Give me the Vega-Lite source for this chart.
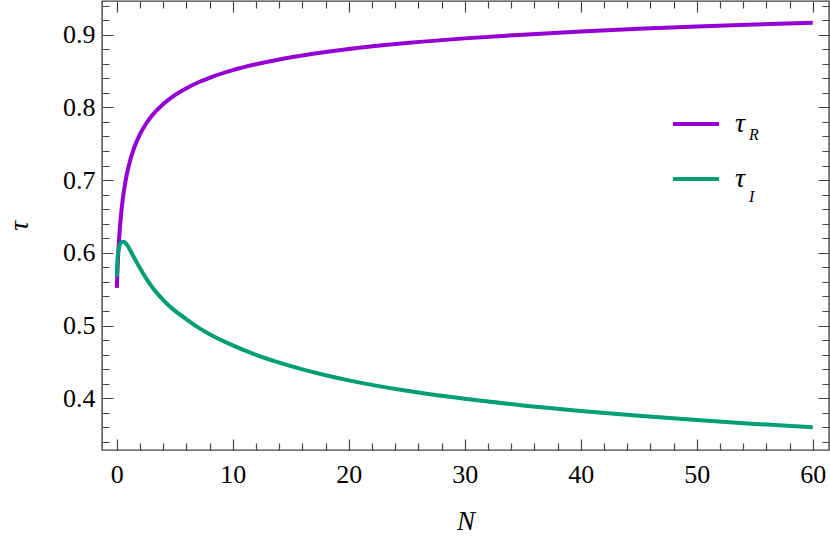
{
  "$schema": "https://vega.github.io/schema/vega-lite/v6.json",
  "width": 727,
  "height": 449,
  "autosize": {"type": "none"},
  "padding": {"left": 102, "top": 1, "right": 1, "bottom": 104},
  "background": "white",
  "datasets": {
    "curves": [
      {"s": "R", "N": 0, "tau": 0.5518},
      {"s": "R", "N": 0.05, "tau": 0.5742},
      {"s": "R", "N": 0.1, "tau": 0.5923},
      {"s": "R", "N": 0.2, "tau": 0.6205},
      {"s": "R", "N": 0.3, "tau": 0.6417},
      {"s": "R", "N": 0.5, "tau": 0.6725},
      {"s": "R", "N": 0.75, "tau": 0.6989},
      {"s": "R", "N": 1, "tau": 0.718},
      {"s": "R", "N": 1.5, "tau": 0.7448},
      {"s": "R", "N": 2, "tau": 0.7632},
      {"s": "R", "N": 2.5, "tau": 0.7771},
      {"s": "R", "N": 3, "tau": 0.788},
      {"s": "R", "N": 4, "tau": 0.8046},
      {"s": "R", "N": 5, "tau": 0.8169},
      {"s": "R", "N": 6, "tau": 0.8264},
      {"s": "R", "N": 7, "tau": 0.8342},
      {"s": "R", "N": 8, "tau": 0.8407},
      {"s": "R", "N": 10, "tau": 0.8512},
      {"s": "R", "N": 12, "tau": 0.8593},
      {"s": "R", "N": 14, "tau": 0.8659},
      {"s": "R", "N": 16, "tau": 0.8714},
      {"s": "R", "N": 18, "tau": 0.8761},
      {"s": "R", "N": 20, "tau": 0.8802},
      {"s": "R", "N": 25, "tau": 0.8885},
      {"s": "R", "N": 30, "tau": 0.8949},
      {"s": "R", "N": 35, "tau": 0.9},
      {"s": "R", "N": 40, "tau": 0.9043},
      {"s": "R", "N": 45, "tau": 0.908},
      {"s": "R", "N": 50, "tau": 0.9112},
      {"s": "R", "N": 55, "tau": 0.914},
      {"s": "R", "N": 60, "tau": 0.9165},
      {"s": "I", "N": 0, "tau": 0.567},
      {"s": "I", "N": 0.02, "tau": 0.58},
      {"s": "I", "N": 0.05, "tau": 0.59},
      {"s": "I", "N": 0.1, "tau": 0.599},
      {"s": "I", "N": 0.2, "tau": 0.608},
      {"s": "I", "N": 0.3, "tau": 0.6125},
      {"s": "I", "N": 0.4, "tau": 0.6145},
      {"s": "I", "N": 0.5, "tau": 0.615},
      {"s": "I", "N": 0.6, "tau": 0.6148},
      {"s": "I", "N": 0.7, "tau": 0.614},
      {"s": "I", "N": 0.85, "tau": 0.6115},
      {"s": "I", "N": 1, "tau": 0.608},
      {"s": "I", "N": 1.25, "tau": 0.6005},
      {"s": "I", "N": 1.5, "tau": 0.593},
      {"s": "I", "N": 1.75, "tau": 0.5858},
      {"s": "I", "N": 2, "tau": 0.5787},
      {"s": "I", "N": 2.5, "tau": 0.5655},
      {"s": "I", "N": 3, "tau": 0.5538},
      {"s": "I", "N": 3.5, "tau": 0.5438},
      {"s": "I", "N": 4, "tau": 0.535},
      {"s": "I", "N": 4.5, "tau": 0.5273},
      {"s": "I", "N": 5, "tau": 0.5205},
      {"s": "I", "N": 6, "tau": 0.5085},
      {"s": "I", "N": 7, "tau": 0.4975},
      {"s": "I", "N": 8, "tau": 0.4881},
      {"s": "I", "N": 10, "tau": 0.4727},
      {"s": "I", "N": 12, "tau": 0.4596},
      {"s": "I", "N": 14, "tau": 0.4489},
      {"s": "I", "N": 16, "tau": 0.4397},
      {"s": "I", "N": 18, "tau": 0.4317},
      {"s": "I", "N": 20, "tau": 0.4246},
      {"s": "I", "N": 25, "tau": 0.4102},
      {"s": "I", "N": 30, "tau": 0.3992},
      {"s": "I", "N": 35, "tau": 0.3901},
      {"s": "I", "N": 40, "tau": 0.3824},
      {"s": "I", "N": 45, "tau": 0.3758},
      {"s": "I", "N": 50, "tau": 0.3699},
      {"s": "I", "N": 55, "tau": 0.3647},
      {"s": "I", "N": 60, "tau": 0.36}
    ]
  },
  "data": {"name": "curves"},
  "encoding": {
    "color": {
      "field": "s",
      "type": "nominal",
      "scale": {"domain": ["R", "I"], "range": ["#9400D3", "#009E73"]},
      "legend": {
        "orient": "none",
        "legendX": 569,
        "legendY": 98,
        "padding": 0,
        "title": null,
        "symbolType": "stroke",
        "symbolSize": 2116,
        "symbolStrokeWidth": 4,
        "labelExpr": "'τ'",
        "labelFont": "Liberation Serif",
        "labelFontStyle": "italic",
        "labelFontSize": 28,
        "labelColor": "black",
        "labelOffset": 14,
        "labelBaseline": "middle",
        "rowPadding": 16
      }
    }
  },
  "layer": [
    {
      "transform": [{"filter": "datum.s === 'R'"}],
      "mark": {"type": "line", "strokeWidth": 4, "interpolate": "monotone"},
      "encoding": {
        "x": {
          "field": "N",
          "type": "quantitative",
          "scale": {"domain": [-1.28, 61.4], "nice": false, "zero": false},
          "axis": {
            "orient": "bottom",
            "values": [0, 10, 20, 30, 40, 50, 60],
            "domain": false,
            "ticks": false,
            "grid": true,
            "gridDash": [11, 427, 11, 1000],
            "gridColor": "#444444",
            "gridWidth": 1.2,
            "gridOpacity": 1,
            "labelFont": "Liberation Serif",
            "labelFontSize": 26,
            "labelColor": "black",
            "labelPadding": 11,
            "labelFlush": false,
            "title": "N",
            "titleFont": "Liberation Serif",
            "titleFontStyle": "italic",
            "titleFontWeight": "normal",
            "titleFontSize": 27,
            "titleColor": "black",
            "titlePadding": 21
          }
        },
        "y": {
          "field": "tau",
          "type": "quantitative",
          "scale": {"domain": [0.3288, 0.9463], "nice": false, "zero": false},
          "axis": {
            "orient": "left",
            "values": [0.4, 0.5, 0.6, 0.7, 0.8, 0.9],
            "format": ".1f",
            "domain": false,
            "ticks": false,
            "grid": true,
            "gridDash": [11, 705, 11, 1000],
            "gridColor": "#444444",
            "gridWidth": 1.2,
            "gridOpacity": 1,
            "labelFont": "Liberation Serif",
            "labelFontSize": 26,
            "labelColor": "black",
            "labelPadding": 7,
            "labelFlush": false,
            "title": "τ",
            "titleFont": "Liberation Serif",
            "titleFontStyle": "italic",
            "titleFontWeight": "normal",
            "titleFontSize": 27,
            "titleColor": "black",
            "titleBaseline": "alphabetic",
            "titlePadding": 35
          }
        },
        "opacity": {
          "field": "s",
          "type": "nominal",
          "scale": {"domain": ["I", "R"], "range": [1, 1]},
          "legend": {
            "orient": "none",
            "legendX": 631,
            "legendY": 126,
            "padding": 0,
            "title": null,
            "values": ["R", "I"],
            "symbolSize": 0,
            "symbolOpacity": 0,
            "symbolStrokeWidth": 0,
            "labelFont": "Liberation Serif",
            "labelFontStyle": "italic",
            "labelFontSize": 16,
            "labelColor": "black",
            "labelOffset": 0,
            "labelBaseline": "middle",
            "rowPadding": 46
          }
        }
      }
    },
    {
      "transform": [{"filter": "datum.s === 'I'"}],
      "mark": {"type": "line", "strokeWidth": 4, "interpolate": "monotone"},
      "encoding": {
        "x": {
          "field": "N",
          "type": "quantitative",
          "axis": {
            "orient": "top",
            "values": [2, 4, 6, 8, 12, 14, 16, 18, 22, 24, 26, 28, 32, 34, 36, 38, 42, 44, 46, 48, 52, 54, 56, 58],
            "domain": false,
            "ticks": false,
            "labels": false,
            "title": null,
            "grid": true,
            "gridDash": [7, 435, 7, 1000],
            "gridColor": "#444444",
            "gridWidth": 1.2,
            "gridOpacity": 1
          }
        },
        "y": {
          "field": "tau",
          "type": "quantitative",
          "axis": {
            "orient": "right",
            "values": [0.34, 0.36, 0.38, 0.42, 0.44, 0.46, 0.48, 0.52, 0.54, 0.56, 0.58, 0.62, 0.64, 0.66, 0.68, 0.72, 0.74, 0.76, 0.78, 0.82, 0.84, 0.86, 0.88, 0.92, 0.94],
            "domain": false,
            "ticks": false,
            "labels": false,
            "title": null,
            "grid": true,
            "gridDash": [7, 713, 7, 1000],
            "gridColor": "#444444",
            "gridWidth": 1.2,
            "gridOpacity": 1
          }
        }
      }
    }
  ],
  "resolve": {"axis": {"x": "independent", "y": "independent"}},
  "config": {
    "view": {"stroke": "#444444", "strokeWidth": 1.4}
  }
}
